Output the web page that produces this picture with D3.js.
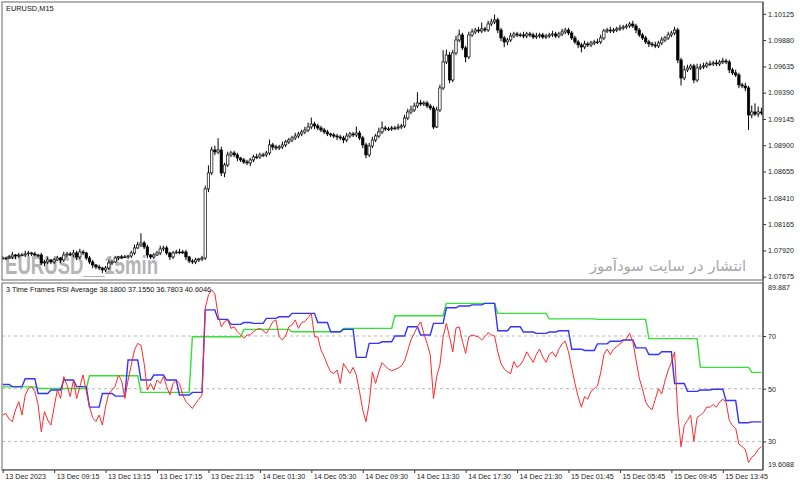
<!DOCTYPE html>
<html><head><meta charset="utf-8">
<script src="https://cdn.jsdelivr.net/npm/d3@7"></script>
<style>body{margin:0;background:#fff}svg{display:block}</style>
</head><body><svg id="c" width="800" height="487"></svg>
<script>
const symbolTitle = "EURUSD,M15";
const indicatorName = "3 Time Frames RSI Average";
const indicatorValues = [38.1800, 37.1550, 36.7803, 40.6046];
const watermark = "EURUSD__15min";
const persianNote = "انتشار در سایت سودآموز";

const firstOpen = 1.07849;
const closes = [
1.07849,1.07849,1.07859,1.07877,1.07868,1.07877,1.07877,1.07887,1.07896,1.07887,
1.07877,1.07877,1.07803,1.07812,1.07831,1.07812,1.07831,1.07849,1.07831,1.07877,
1.07887,1.07877,1.07896,1.07859,1.07905,1.07896,1.07849,1.07812,1.07784,1.07766,
1.07756,1.07738,1.07756,1.07803,1.07812,1.07849,1.07859,1.07859,1.07859,1.07868,
1.07896,1.07943,1.07971,1.07989,1.07952,1.07877,1.07859,1.07877,1.07896,1.07933,
1.07943,1.07896,1.07859,1.07896,1.07905,1.07905,1.07905,1.07859,1.07821,1.07812,
1.07831,1.07840,1.07849,1.08493,1.08642,1.08856,1.08837,1.08856,1.08642,1.08716,
1.08810,1.08828,1.08810,1.08781,1.08763,1.08744,1.08735,1.08763,1.08791,1.08791,
1.08810,1.08810,1.08828,1.08903,1.08884,1.08875,1.08884,1.08903,1.08931,1.08949,
1.08968,1.08986,1.09005,1.09024,1.09042,1.09070,1.09098,1.09080,1.09061,1.09042,
1.09024,1.09005,1.08996,1.08986,1.08977,1.08968,1.08949,1.08986,1.09005,1.08996,
1.09014,1.08968,1.08903,1.08810,1.08893,1.08949,1.08986,1.09024,1.09061,1.09052,
1.09052,1.09061,1.09061,1.09070,1.09080,1.09154,1.09210,1.09229,1.09266,1.09294,
1.09285,1.09294,1.09266,1.09247,1.09070,1.09229,1.09434,1.09676,1.09741,1.09508,
1.09760,1.09881,1.09928,1.09807,1.09723,1.09928,1.09956,1.09974,1.09965,1.09984,
1.09974,1.10030,1.10049,1.10068,1.09974,1.09900,1.09863,1.09881,1.09918,1.09937,
1.09928,1.09928,1.09918,1.09937,1.09928,1.09909,1.09918,1.09928,1.09909,1.09918,
1.09928,1.09937,1.09918,1.09937,1.09956,1.09974,1.09946,1.09900,1.09863,1.09835,
1.09816,1.09844,1.09835,1.09853,1.09863,1.09863,1.09900,1.09965,1.09974,1.09965,
1.09974,1.09984,1.09993,1.10002,1.10012,1.10030,1.10012,1.09974,1.09928,1.09900,
1.09863,1.09844,1.09835,1.09825,1.09853,1.09881,1.09900,1.09928,1.09946,1.09974,
1.09695,1.09527,1.09602,1.09620,1.09639,1.09508,1.09620,1.09630,1.09639,1.09658,
1.09658,1.09667,1.09658,1.09676,1.09685,1.09676,1.09602,1.09574,1.09555,1.09462,
1.09452,1.09434,1.09182,1.09210,1.09191,1.09210,1.09201];
// wick lengths beyond the body, in pips
const wickUp = [
2,1,2,3,1,2,2,3,2,1, 2,1,2,2,3,1,2,2,1,3, 2,2,3,2,3,2,1,2,2,1, 2,1,2,3,2,2,1,2,2,1,
2,3,3,9,2,2,1,2,2,3, 2,2,1,2,2,3,2,2,1,2, 2,1,2,3,7,3,4,11,3,2, 3,2,2,2,1,2,2,2,2,3,
2,2,2,5,2,2,2,3,2,2, 2,3,2,2,3,4,6,2,2,2, 2,2,1,2,2,2,2,3,2,2, 6,2,2,2,3,3,2,4,6,2,
2,2,2,3,2,3,3,4,3,10, 3,2,2,2,2,3,3,11,5,3, 3,4,5,2,2,3,3,2,3,6, 2,3,3,5,2,2,2,2,3,2,
2,2,3,2,2,2,3,2,2,2, 2,3,2,2,3,2,2,2,2,2, 2,3,2,2,2,3,3,2,2,3, 2,2,3,2,2,2,3,2,2,2,
2,2,2,3,2,3,2,3,2,3, 2,2,4,3,2,2,4,3,3,2, 3,2,3,2,3,2,2,2,3,2, 2,3,2,6,8,5,4];
const wickDn = [
2,2,1,2,3,2,1,2,2,2, 1,2,2,3,2,2,2,1,3,2, 2,1,2,3,2,2,2,2,3,2, 2,3,2,2,2,1,2,2,1,2,
2,2,1,2,2,3,2,2,1,2, 2,2,3,2,1,2,2,3,2,2, 2,2,2,2,3,2,3,2,3,4, 2,2,2,3,2,2,2,3,2,2,
2,2,2,2,3,2,2,2,2,2, 2,2,2,2,2,2,2,3,2,2, 2,2,2,2,3,2,3,2,2,2, 2,2,3,3,2,2,2,2,2,2,
2,2,2,2,2,2,2,2,2,2, 2,2,2,2,2,1,2,2,2,3, 2,2,2,2,5,2,2,2,2,2, 2,2,2,2,3,3,5,3,2,2,
2,2,2,2,2,2,2,2,2,2, 2,2,2,2,2,2,2,2,2,3, 5,2,2,2,2,2,2,2,2,2, 2,2,2,2,2,2,2,3,2,2,
2,3,2,2,2,2,2,2,2,2, 3,7,2,2,2,3,2,2,2,2, 2,2,2,2,2,2,3,2,2,3, 2,3,14,3,2,3,2];

const rsiM15 = [
40.0,40.6,38.5,37.5,42,45.1,40.0,47.6,50,50.8, 49,44,33.7,41.3,38.1,36.2,43,49.5,46.3,54.6,
51.4,47,53.3,46.3,50.8,55.2,49,43.2,39,37.5, 40.0,36.2,43.2,48.2,49.5,51,55.2,53,46.3,53.3,
59.0,64.7,67.2,66.5,59.6,49.5,52.0,49.5,53.3,52, 54.6,50.8,47.6,52.0,53.3,52,47.6,45.1,43.8,42.5,
44.4,46,47.6,80.5,85.6,87.5,86,78,73.5,75.4, 76.1,72.9,73.5,71.6,70.4,69.1,70.4,70.4,71.6,72.5,
72.9,72,71.0,73,75.4,76.1,69.7,68.5,70,73.5, 74.2,76.1,72.9,75.1,75.5,77,78.6,69.7,69.7,64.7,
62.2,59.0,56.4,55.8,57.1,52.0,59.6,57.7,55.8,58.1, 55.2,48.9,41.9,37.5,44.4,56.4,52.0,56.4,59.9,58.6,
57.5,56.8,57.3,57.8,58.6,60.5,64.5,68.5,71.0,73.5, 75.4,71.0,67.2,62.8,46.3,54.6,59,69.7,74.8,69.7,
64,73,73.5,68,63.4,69.7,70.4,70,69.7,68.5, 69.7,71.3,70.4,70,64,59.5,57.5,56.4,55.8,60.3,
58.1,59.0,61,64,62,60,63,65,62,60, 63,64,62,65,67,68,64,58,52,47,
43,47,46,49,50,51,56,63,65,63, 65,66,67,68,69,71,68,61,54,50,
45,43,42,46,50,48,53,57,60,64, 40,28,36,38,40,30,39,40,41,43,
43,44,43,45,46,45,38,36,35,29, 28,27,22,24,25,27,28];
const rsiH1 = [
51.6,51.6,51.6, 50.8,50.8,50.8,50.8, 53.8,53.8,53.8,53.8, 48.2,48.2,48.2,48.2, 49.5,49.5,49.5,49.5,
53.3,53.3,53.3,53.3, 50.8,50.8,50.8,50.8, 43.0,43.0,43.0,43.0, 48.2,48.2,48.2,48.2, 47.2,47.2,47.2,47.2,
60.9,60.9,60.9,60.9, 53.3,53.3,53.3,53.3, 55.2,55.2,55.2,55.2, 53.3,53.3,53.3,53.3, 47.6,47.6,47.6,47.6,
48.6,48.6,48.6,48.6, 79.9,79.9,79.9,79.9, 76.3,76.3,76.3,76.3, 74.4,74.4,74.4,74.4, 75.1,75.1,75.1,
74.8,74.8,74.8,74.8, 76.7,76.7,76.7,76.7, 77.3,77.3,77.3,77.3, 78.6,78.6,78.6,78.6, 78.6,78.6,78.6,78.6,
75.1,75.1,75.1,75.1, 71.6,71.6,71.6,71.6, 72.5,72.5,72.5,72.5, 61.9,61.9,61.9,61.9, 67.2,67.2,67.2,67.2,
67.8,67.8,67.8,67.8, 70.0,70.0,70.0,70.0, 73.5,73.5,73.5,73.5, 70.4,70.4,70.4,70.4, 74.8,74.8,74.8,74.8,
80.7,80.7,80.7,80.7, 81.4,81.4,81.4,81.4, 81.8,81.8,81.8,81.8, 82.4,82.4,82.4,82.4, 72.0,72.0,72.0,72.0,
73.5,73.5,73.5,73.5, 71.5,71.5,71.5,71.5, 71.0,71.0,71.0,71.0, 71.5,71.5,71.5,
72.0,72.0,72.0,72.0, 65.0,65.0,65.0,65.0, 64.5,64.5,64.5,64.5, 67.0,67.0,67.0,67.0, 68.0,68.0,68.0,68.0,
68.5,68.5,68.5,68.5, 65.5,65.5,65.5,65.5, 63.0,63.0,63.0,63.0, 64.0,64.0,64.0,64.0, 52.0,52.0,52.0,52.0,
49.0,49.0,49.0,49.0, 49.5,49.5,49.5,49.5, 49.8,49.8,49.8,49.8, 45.5,45.5,45.5,45.5, 37.1,37.1,37.1,37.1,
37.4,37.4,37.4,37.4];
const rsiH4 = [
50.7,50.7,50.7,50.7,50.7,50.7,50.7,50.7,50.7,50.7,50.7,
50.1,50.1,50.1,50.1,50.1,50.1,50.1,50.1,50.1,50.1,50.1,50.1,50.1,50.1,50.1,50.1,
54.9,54.9,54.9,54.9,54.9,54.9,54.9,54.9,54.9,54.9,54.9,54.9,54.9,54.9,54.9,54.9,
48.6,48.6,48.6,48.6,48.6,48.6,48.6,48.6,48.6,48.6,48.6,48.6,48.6,48.6,48.6,48.6,
69.7,69.7,69.7,69.7,69.7,69.7,69.7,69.7,69.7,69.7,69.7,69.7,69.7,69.7,69.7,69.7,
72.5,72.5,72.5,72.5,72.5,72.5,72.5,72.5,72.5,72.5,72.5,72.5,72.5,72.5,72.5,
71.6,71.6,71.6,71.6,71.6,71.6,71.6,71.6,71.6,71.6,71.6,71.6,71.6,71.6,71.6,71.6,
72.9,72.9,72.9,72.9,72.9,72.9,72.9,72.9,72.9,72.9,72.9,72.9,72.9,72.9,72.9,72.9,
77.7,77.7,77.7,77.7,77.7,77.7,77.7,77.7,77.7,77.7,77.7,77.7,77.7,77.7,77.7,77.7,
82.4,82.4,82.4,82.4,82.4,82.4,82.4,82.4,82.4,82.4,82.4,82.4,82.4,82.4,82.4,82.4,
78.6,78.6,78.6,78.6,78.6,78.6,78.6,78.6,78.6,78.6,78.6,78.6,78.6,78.6,78.6,78.6,
76.5,76.5,76.5,76.5,76.5,76.5,76.5,76.5,76.5,76.5,76.5,76.5,76.5,76.5,76.5,
76.3,76.3,76.3,76.3,76.3,76.3,76.3,76.3,76.3,76.3,76.3,76.3,76.3,76.3,76.3,76.3,
69.0,69.0,69.0,69.0,69.0,69.0,69.0,69.0,69.0,69.0,69.0,69.0,69.0,69.0,69.0,69.0,
58.1,58.1,58.1,58.1,58.1,58.1,58.1,58.1,58.1,58.1,58.1,58.1,58.1,58.1,58.1,58.1,
56.2,56.2,56.2,56.2];

const priceTicks = [1.07675,1.07920,1.08165,1.08410,1.08655,1.08900,1.09145,1.09390,1.09635,1.09880,1.10125];
const rsiTicks = [89.887,70,50,30,19.6088];
const rsiLevels = [70,50,30];
const timeTickIdx = [0,16,32,48,64,80,96,112,128,144,160,176,192,208,224];
const timeLabels = ["13 Dec 2023","13 Dec 09:15","13 Dec 13:15","13 Dec 17:15","13 Dec 21:15","14 Dec 01:30","14 Dec 05:30","14 Dec 09:30","14 Dec 13:30","14 Dec 17:30","14 Dec 21:30","15 Dec 01:45","15 Dec 05:45","15 Dec 09:45","15 Dec 13:45"];

const FONT = "'Liberation Sans', Arial, sans-serif";
const svg = d3.select("#c");
const L = 2, R = 763, mainTop = 2, mainBot = 280, rsiTop = 283.6, rsiBot = 468.8;

const x = d3.scaleLinear().domain([0, closes.length - 1]).range([2.7, 761.4]);
const yP = d3.scaleLinear().domain([1.07644, 1.10235]).range([mainBot, mainTop]);
const yR = d3.scaleLinear().domain([19.6088, 89.887]).range([rsiBot, rsiTop]);

const defs = svg.append("defs");
defs.append("clipPath").attr("id","cm").append("rect").attr("x",L).attr("y",mainTop).attr("width",R-L).attr("height",mainBot-mainTop);
defs.append("clipPath").attr("id","cr").append("rect").attr("x",L).attr("y",rsiTop).attr("width",R-L).attr("height",rsiBot-rsiTop);

// main panel
const gm = svg.append("g").attr("clip-path","url(#cm)");
gm.append("text").attr("x",5).attr("y",274).attr("font-family",FONT).attr("font-weight","bold")
  .attr("font-size",26).attr("fill","#b4b4b4").attr("textLength",153).attr("lengthAdjust","spacingAndGlyphs").text(watermark);
gm.append("text").attr("x",668).attr("y",271).attr("text-anchor","middle").attr("font-family","'DejaVu Sans', sans-serif")
  .attr("font-size",15).attr("fill","#a8a8a8").attr("direction","rtl").text(persianNote);

const bars = closes.map((c,i)=>{
  const o = i===0 ? firstOpen : closes[i-1];
  return {i, o, c, h: Math.max(o,c) + wickUp[i]*1e-4, l: Math.min(o,c) - wickDn[i]*1e-4};
});
const cg = gm.append("g");
cg.selectAll("line.w").data(bars).join("line").attr("class","w")
  .attr("x1",d=>x(d.i)).attr("x2",d=>x(d.i)).attr("y1",d=>yP(d.h)).attr("y2",d=>yP(d.l))
  .attr("stroke","#000").attr("stroke-width",1);
cg.selectAll("rect.b").data(bars).join("rect").attr("class","b")
  .attr("x",d=>x(d.i)-1.2).attr("width",2.4)
  .attr("y",d=>yP(Math.max(d.o,d.c))).attr("height",d=>Math.max(0.8, Math.abs(yP(d.o)-yP(d.c))))
  .attr("fill",d=>d.c>=d.o ? "#fff" : "#000").attr("stroke","#000").attr("stroke-width",0.7);

svg.append("text").attr("x",6).attr("y",10.5).attr("font-family",FONT).attr("font-size",7.4).attr("fill","#111").text(symbolTitle);

// RSI panel
const gr = svg.append("g").attr("clip-path","url(#cr)");
gr.selectAll("line.lv").data(rsiLevels).join("line").attr("class","lv")
  .attr("x1",L).attr("x2",R).attr("y1",d=>yR(d)).attr("y2",d=>yR(d))
  .attr("stroke","#b8b8b8").attr("stroke-dasharray","3,3").attr("stroke-width",1);
const line = arr => d3.line().x((d,i)=>x(i)).y(d=>yR(d))(arr);
gr.append("path").attr("d",line(rsiH4)).attr("fill","none").attr("stroke","#33e033").attr("stroke-width",1.4);
gr.append("path").attr("d",line(rsiH1)).attr("fill","none").attr("stroke","#3333ff").attr("stroke-width",1.4);
gr.append("path").attr("d",line(rsiM15)).attr("fill","none").attr("stroke","#ff2a2a").attr("stroke-width",1);

svg.append("text").attr("x",6).attr("y",292).attr("font-family",FONT).attr("font-size",7.3).attr("fill","#111")
  .text(indicatorName + " " + indicatorValues.map(v=>v.toFixed(4)).join(" "));

// frames
svg.append("rect").attr("x",L).attr("y",mainTop).attr("width",R-L).attr("height",mainBot-mainTop)
  .attr("fill","none").attr("stroke","#8a8a8a").attr("stroke-width",1.3);
svg.append("rect").attr("x",L).attr("y",rsiTop-0.6).attr("width",R-L).attr("height",rsiBot-rsiTop+1.6)
  .attr("fill","none").attr("stroke","#8a8a8a").attr("stroke-width",1.3);
svg.append("line").attr("x1",R).attr("x2",R).attr("y1",mainTop).attr("y2",470).attr("stroke","#333").attr("stroke-width",1);

// axes
function styleAxis(g){
  g.select(".domain").remove();
  g.attr("font-family",FONT).attr("font-size",7.2);
  g.selectAll("line").attr("stroke","#333");
  g.selectAll("text").attr("fill","#222");
}
svg.append("g").attr("transform",`translate(${R},0)`)
  .call(d3.axisRight(yP).tickValues(priceTicks).tickFormat(d3.format(".5f")).tickSize(3).tickPadding(2))
  .call(styleAxis);
svg.append("g").attr("transform",`translate(${R},0)`)
  .call(d3.axisRight(yR).tickValues(rsiTicks).tickFormat(d=>String(d)).tickSize(3).tickPadding(2))
  .call(styleAxis)
  .call(g=>g.selectAll(".tick").filter(d=>d===89.887).select("text").attr("y",3.5))
  .call(g=>g.selectAll(".tick").filter(d=>d===19.6088).select("text").attr("y",-4.5))
  .call(g=>g.selectAll(".tick").filter(d=>d===89.887||d===19.6088).select("line").remove());
svg.append("g").attr("transform","translate(0,470)")
  .call(d3.axisBottom(x).tickValues(timeTickIdx).tickFormat((d,i)=>timeLabels[i]).tickSize(3))
  .call(styleAxis)
  .call(g=>g.selectAll("text").attr("text-anchor","start").attr("x",2).attr("y",3.5));
svg.append("line").attr("x1",L).attr("x2",R).attr("y1",470).attr("y2",470).attr("stroke","#555");
</script></body></html>
